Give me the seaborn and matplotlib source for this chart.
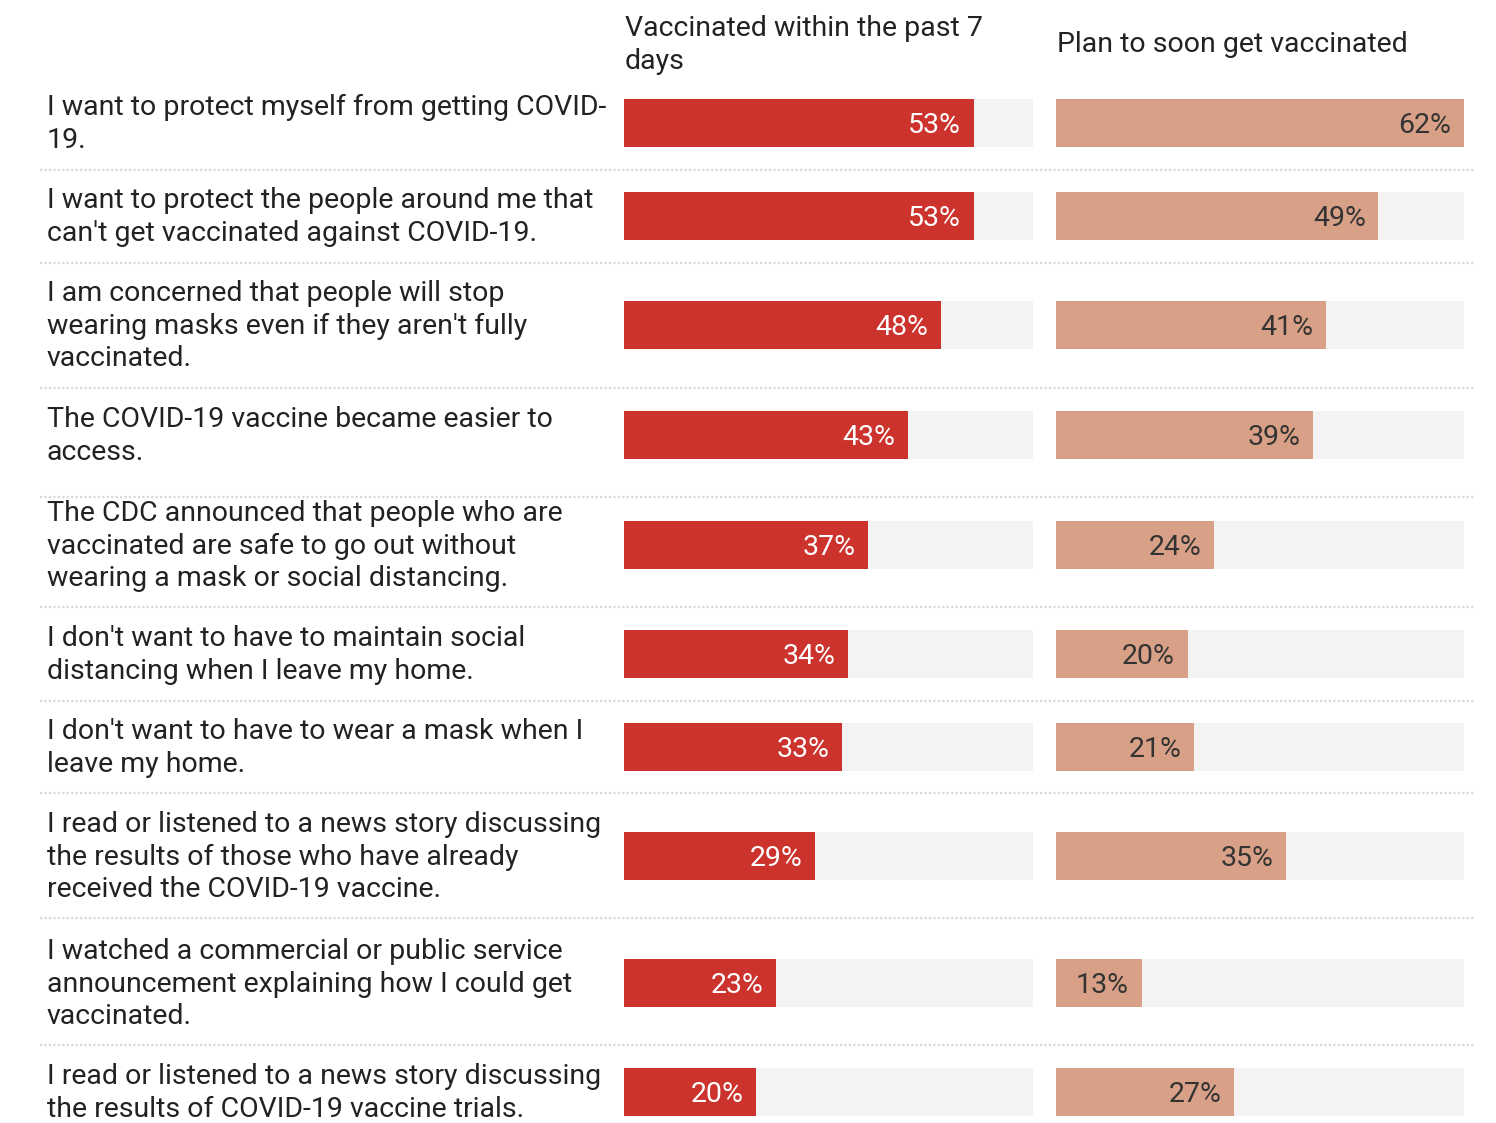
import matplotlib
matplotlib.use("Agg")
import matplotlib.pyplot as plt
import seaborn as sns
import numpy as np
import pandas as pd

# ---------------- data ----------------
reasons = [
    "I want to protect myself from getting COVID-\n19.",
    "I want to protect the people around me that\ncan't get vaccinated against COVID-19.",
    "I am concerned that people will stop\nwearing masks even if they aren't fully\nvaccinated.",
    "The COVID-19 vaccine became easier to\naccess.",
    "The CDC announced that people who are\nvaccinated are safe to go out without\nwearing a mask or social distancing.",
    "I don't want to have to maintain social\ndistancing when I leave my home.",
    "I don't want to have to wear a mask when I\nleave my home.",
    "I read or listened to a news story discussing\nthe results of those who have already\nreceived the COVID-19 vaccine.",
    "I watched a commercial or public service\nannouncement explaining how I could get\nvaccinated.",
    "I read or listened to a news story discussing\nthe results of COVID-19 vaccine trials.",
]
vaccinated = [53, 53, 48, 43, 37, 34, 33, 29, 23, 20]
plan_soon = [62, 49, 41, 39, 24, 20, 21, 35, 13, 27]
col_titles = ["Vaccinated within the past 7\ndays", "Plan to soon get vaccinated"]

# ---------------- layout ----------------
W, H = 1496, 1123
DPI = 100
row_y = [123, 216, 325, 435, 545, 654, 747, 856, 983, 1092]   # row centres (px)
sep_y = [170, 263, 388, 497, 607, 701, 793, 918, 1045]          # dotted separators (px)
bar_h = 48
col_x = [(624, 1033), (1056, 1464)]
RED = "#cc332d"
SALMON = "#d8a086"
BG = "#f3f3f3"
TXT = "#222222"
FONT = "Roboto"
FS = 20.5
LS = 1.28

sns.set_theme(style="white")
plt.rcParams["font.family"] = [FONT, "DejaVu Sans"]

fig = plt.figure(figsize=(W / DPI, H / DPI), dpi=DPI)
fig.patch.set_facecolor("white")

# background axes in pixel coordinates for labels and separators
bg = fig.add_axes([0, 0, 1, 1])
bg.set_xlim(0, W)
bg.set_ylim(H, 0)
bg.axis("off")

for s in sep_y:
    bg.plot([40, 1474], [s, s], color="#d9d9d9", lw=1.6, ls=(0, (1, 1)), zorder=1)

for lab, y in zip(reasons, row_y):
    bg.text(47, y + 1, lab, ha="left", va="center", fontsize=FS, color=TXT,
            linespacing=LS, family=FONT)

bg.text(625, 45, col_titles[0], ha="left", va="center", fontsize=FS, color=TXT,
        linespacing=LS, family=FONT)
bg.text(1057, 45, col_titles[1], ha="left", va="center", fontsize=FS, color=TXT,
        family=FONT)

vmax = max(max(vaccinated), max(plan_soon))
width_rel = bar_h / np.min(np.diff(sorted(row_y)))

series = [(vaccinated, RED, "white"), (plan_soon, SALMON, "#333333")]
for (vals, color, lblcolor), (x0, x1) in zip(series, col_x):
    ax = fig.add_axes([x0 / W, 0, (x1 - x0) / W, 1])
    df = pd.DataFrame({"y": row_y, "v": vals, "full": [vmax] * len(vals)})
    sns.barplot(data=df, x="full", y="y", orient="h", native_scale=True,
                color=BG, saturation=1, width=width_rel, ax=ax, linewidth=0)
    sns.barplot(data=df, x="v", y="y", orient="h", native_scale=True,
                color=color, saturation=1, width=width_rel, ax=ax, linewidth=0)
    ax.set_xlim(0, vmax)
    ax.set_ylim(H, 0)
    ax.axis("off")
    ax.patch.set_alpha(0)
    for v, y in zip(vals, row_y):
        ax.annotate(f"{v}%", xy=(v, y), xytext=(-9, -1.5), textcoords="offset points",
                    ha="right", va="center", fontsize=FS, color=lblcolor, family=FONT)

fig.savefig("out.png", dpi=DPI, facecolor="white")
